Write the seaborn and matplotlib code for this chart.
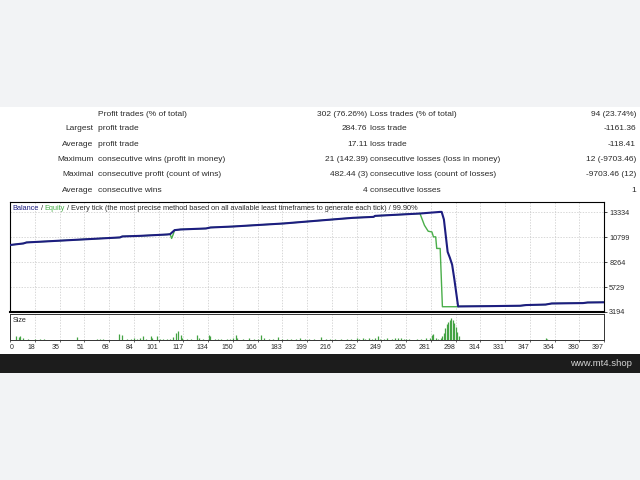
import numpy as np
import pandas as pd
import matplotlib
matplotlib.use("Agg")
import matplotlib.pyplot as plt
from matplotlib.patches import Rectangle
import seaborn as sns

# ---- report table ----
left_labels = ["", "Largest", "Average", "Maximum", "Maximal", "Average"]
profit_labels = ["Profit trades (% of total)", "profit trade", "profit trade",
                 "consecutive wins (profit in money)", "consecutive profit (count of wins)",
                 "consecutive wins"]
profit_values = ["302 (76.26%)", "284.76", "17.11", "21 (142.39)", "482.44 (3)", "4"]
loss_labels = ["Loss trades (% of total)", "loss trade", "loss trade",
               "consecutive losses (loss in money)", "consecutive loss (count of losses)",
               "consecutive losses"]
loss_values = ["94 (23.74%)", "-1161.36", "-118.41", "12 (-9703.46)", "-9703.46 (12)", "1"]

# ---- balance / equity ----
balance_trade = [0, 9, 11, 27, 49, 73.5, 75, 87, 105, 107, 110, 114, 131, 134, 149,
                 172, 183, 207, 229, 243, 244, 274, 287.5, 288.5, 290, 292.5, 294,
                 295.5, 297, 299.5, 320, 341, 345, 358, 362, 383, 386, 397]
balance_value = [10000, 10160, 10260, 10390, 10570, 10770, 10870, 10930, 11070, 11100,
                 11510, 11580, 11680, 11780, 11880, 12090, 12190, 12490, 12760, 12860,
                 12960, 13200, 13364, 13364, 12600, 9300, 8700, 8000, 6500, 3760, 3790,
                 3830, 3900, 3950, 4060, 4100, 4160, 4180]
equity_trade = [0, 9, 11, 27, 49, 73.5, 75, 87, 105, 107, 108, 109, 110, 114, 131, 134,
                149, 172, 183, 207, 229, 243, 244, 274, 277, 279.5, 282, 283, 284.5,
                285.2, 287.5, 289, 299.5, 300, 320, 341, 345, 358, 362, 383, 386, 397]
equity_value = [10000, 10160, 10260, 10390, 10570, 10770, 10870, 10930, 11070, 11100,
                10670, 11050, 11510, 11580, 11680, 11780, 11880, 12090, 12190, 12490,
                12760, 12860, 12960, 13200, 12000, 11400, 11330, 10830, 10830, 9650,
                9650, 3730, 3730, 3760, 3790, 3830, 3900, 3950, 4060, 4100, 4160, 4180]

# ---- position size per trade ----
size_trade = [4, 6, 7, 9, 12, 17, 20, 23, 45, 58, 60, 62, 73, 75, 78, 81, 83, 85, 87, 89,
              91, 94, 95, 98, 100, 102, 105, 107, 109, 111, 112, 114, 115, 118, 121, 125,
              126, 129, 133, 134, 137, 139, 141, 145, 147, 149, 151, 152, 156, 160, 163,
              166, 168, 170, 173, 176, 179, 182, 185, 188, 191, 194, 197, 200, 203, 208,
              211, 214, 217, 221, 225, 228, 232, 233, 236, 237, 240, 242, 244, 246, 247,
              250, 252, 255, 257, 259, 261, 263, 265, 267, 272, 275, 278, 281, 282, 283,
              285, 286, 288, 289, 290, 291, 292, 293, 294, 295, 296, 297, 298, 299, 300,
              358, 359]
size_value = [4, 3, 3.7, 1.7, 1, 1, 1, 1, 3, 1, 1, 1, 6.3, 4.7, 1.5, 1.5, 2.3, 1.5, 2.3,
              3.7, 1.5, 3.7, 2.3, 3.7, 1.5, 1, 1, 1.5, 3, 7.3, 9, 5, 2.3, 1.5, 1.5, 4.7,
              2.3, 1.5, 5, 4, 1.5, 1.5, 1, 1, 1, 2.3, 5, 2, 1, 2, 1, 1, 5, 2.3, 1, 1, 3,
              1.5, 1, 1, 1.5, 2, 1, 1, 1, 3, 1, 1, 1, 1, 1, 1, 2, 1.5, 2, 1.5, 2, 1, 2.3,
              3.7, 1.5, 1, 2, 1.5, 2, 2, 2, 1.5, 1, 1, 1, 1, 2, 2, 5, 6.3, 2, 1.5, 2, 4,
              7.3, 12, 16, 18, 20, 22.3, 20, 17, 13, 8.3, 4, 2, 1.5]

y_ticks = [3194, 5729, 8264, 10799, 13334]
x_tick_labels = ["0", "18", "35", "51", "68", "84", "101", "117", "134", "150", "166",
                 "183", "199", "216", "232", "249", "265", "281", "298", "314", "331",
                 "347", "364", "380", "397"]

sns.set_style("white")
plt.rcParams["font.family"] = ["Liberation Sans", "DejaVu Sans"]

BLUE = "#1d1d80"
GREEN = "#4aae4a"
TXT = "#2a2a2a"
GRID = "#c8c8c8"


def fx(px):
    return px / 640


def fy(py):
    return 1 - py / 480


fig = plt.figure(figsize=(6.4, 4.8), dpi=100)
fig.patch.set_facecolor("#f2f3f5")
fig.add_artist(Rectangle((0, fy(354)), 1, (354 - 107) / 480, transform=fig.transFigure,
                         facecolor="white", edgecolor="none", zorder=0))
fig.add_artist(Rectangle((0, fy(373)), 1, 19 / 480, transform=fig.transFigure,
                         facecolor="#1c1c1c", edgecolor="none", zorder=0))
fig.text(fx(632), fy(363.5), "www.mt4.shop", ha="right", va="center",
         color="#d4d4d4", fontsize=6.8)

# table rows
row_y = [114, 129, 144.5, 160, 175, 190.5]
for i, y in enumerate(row_y):
    kw = dict(va="center", fontsize=6.0, color=TXT)
    fig.text(fx(93.5), fy(y), left_labels[i], ha="right", **kw)
    fig.text(fx(98.5), fy(y), profit_labels[i], ha="left", **kw)
    fig.text(fx(367.5), fy(y), profit_values[i], ha="right", **kw)
    fig.text(fx(370), fy(y), loss_labels[i], ha="left", **kw)
    fig.text(fx(636), fy(y), loss_values[i], ha="right", **kw)

# main chart
ax = fig.add_axes([fx(10), fy(312), 594 / 640, 110 / 480])
ax.set_facecolor("white")
bal = pd.DataFrame({"trade": balance_trade, "value": balance_value})
eq = pd.DataFrame({"trade": equity_trade, "value": equity_value})
sns.lineplot(data=eq, x="trade", y="value", ax=ax, color=GREEN, lw=1.0,
             estimator=None, sort=False, zorder=3)
sns.lineplot(data=bal, x="trade", y="value", ax=ax, color=BLUE, lw=1.5,
             estimator=None, sort=False, zorder=4)

xt = np.linspace(0, 397, len(x_tick_labels))
ax.set_xlim(0, 397)
ax.set_ylim(3194, 14370)
ax.set_xticks(xt)
ax.set_xticklabels([])
ax.set_yticks(y_ticks)
ax.set_yticklabels([str(v) for v in y_ticks])
ax.yaxis.tick_right()
ax.tick_params(axis="y", direction="out", length=2.5, width=0.6, pad=1.2,
               labelsize=5.2, labelcolor=TXT, right=True, left=False)
ax.tick_params(axis="x", length=0)
ax.set_xlabel("")
ax.set_ylabel("")
ax.grid(True, color=GRID, linestyle=(0, (2, 2)), lw=0.5)
for s in ax.spines.values():
    s.set_color("black")
    s.set_linewidth(0.8)
ax.spines["bottom"].set_linewidth(1.5)

t1 = ax.text(0.004, 1 - 7 / 110, "Balance", transform=ax.transAxes, va="center",
             ha="left", fontsize=5.3, color=BLUE, zorder=6)
t2 = ax.annotate(" / ", xy=(1, 0), xycoords=t1, va="bottom", ha="left",
                 fontsize=5.3, color=TXT, zorder=6)
t3 = ax.annotate("Equity", xy=(1, 0), xycoords=t2, va="bottom", ha="left",
                 fontsize=5.3, color=GREEN, zorder=6)
ax.annotate(" / Every tick (the most precise method based on all available least "
            "timeframes to generate each tick) / 99.90%", xy=(1, 0), xycoords=t3,
            va="bottom", ha="left", fontsize=5.3, color=TXT, zorder=6)

# size panel
ax2 = fig.add_axes([fx(10), fy(340), 594 / 640, 26 / 480])
ax2.set_facecolor("white")
ax2.vlines(size_trade, 0, size_value, color="#43a243", lw=0.9)
ax2.set_xlim(0, 397)
ax2.set_ylim(0, 26)
ax2.set_yticks([])
ax2.set_xticks(xt)
ax2.set_xticklabels(x_tick_labels)
ax2.tick_params(axis="x", direction="out", length=1.5, width=0.5, pad=1.2,
                labelsize=5.0, labelcolor=TXT, bottom=True)
for i, lab in enumerate(ax2.get_xticklabels()):
    lab.set_ha("left" if i == 0 else "right")
ax2.grid(True, axis="x", color=GRID, linestyle=(0, (2, 2)), lw=0.5)
for s in ax2.spines.values():
    s.set_color("#333333")
    s.set_linewidth(0.7)
ax2.text(0.004, 1 - 6 / 26, "Size", transform=ax2.transAxes, va="center",
         ha="left", fontsize=5.2, color=TXT)

fig.savefig("out.png", dpi=100, facecolor=fig.get_facecolor())
